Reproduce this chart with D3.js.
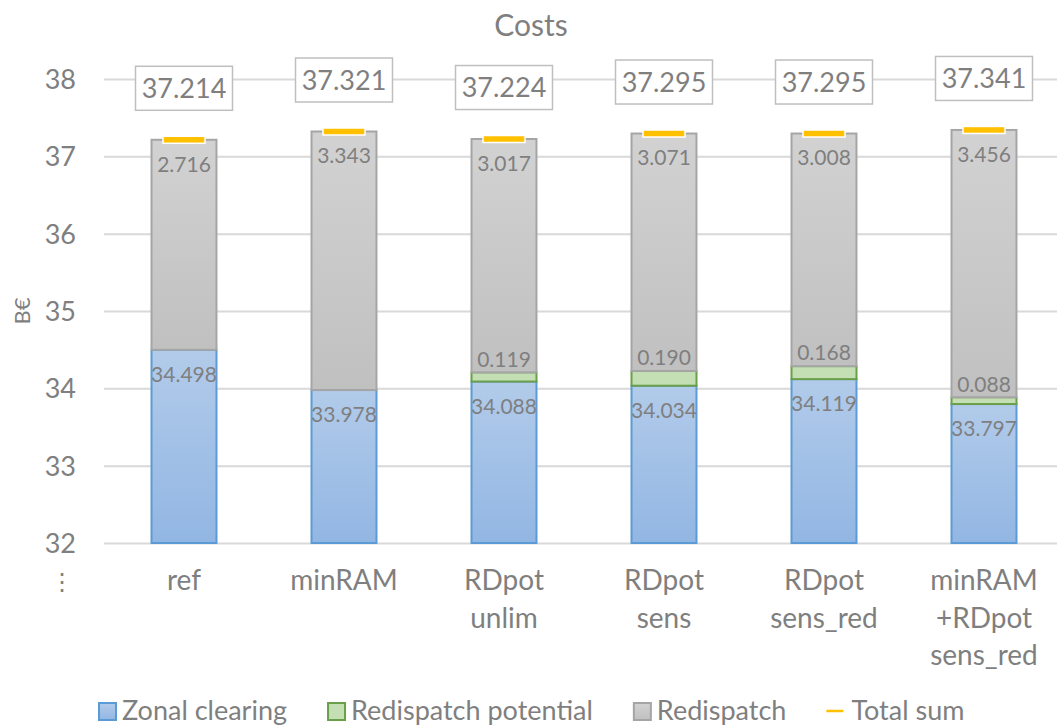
<!DOCTYPE html>
<html>
<head>
<meta charset="utf-8">
<script src="https://cdn.jsdelivr.net/npm/d3@7"></script>
<style>
  html, body { margin: 0; padding: 0; background: #fff; }
  svg { display: block; }
  text { font-family: "Lato", "Open Sans", sans-serif; fill: #7f7f7f; }
</style>
</head>
<body>
<svg id="chart" width="1057" height="727"></svg>
<script>
// ---- data ----
const categories = ["ref", "minRAM", "RDpot\nunlim", "RDpot\nsens", "RDpot\nsens_red", "minRAM\n+RDpot\nsens_red"];
const zonalClearing = [34.498, 33.978, 34.088, 34.034, 34.119, 33.797];
const redispatchPotential = [0, 0, 0.119, 0.190, 0.168, 0.088];
const redispatch = [2.716, 3.343, 3.017, 3.071, 3.008, 3.456];
const totalSum = [37.214, 37.321, 37.224, 37.295, 37.295, 37.341];
const yTicks = [32, 33, 34, 35, 36, 37, 38];
const seriesNames = ["Zonal clearing", "Redispatch potential", "Redispatch", "Total sum"];

const svg = d3.select("#chart");
const W = 1057, H = 727;

const x = d3.scaleBand().domain(categories).range([104, 1064]).paddingInner(0.594).paddingOuter(0.297);
const y = d3.scaleLinear().domain([32, 38]).range([543, 79]);

// gradients
const defs = svg.append("defs");
function grad(id, c1, c2) {
  const g = defs.append("linearGradient").attr("id", id).attr("x1", 0).attr("y1", 0).attr("x2", 0).attr("y2", 1);
  g.append("stop").attr("offset", "0%").attr("stop-color", c1);
  g.append("stop").attr("offset", "100%").attr("stop-color", c2);
}
grad("gBlue", "#b2cbea", "#92b6e3");
grad("gGray", "#d2d2d2", "#c0c0c0");

// title
svg.append("text").attr("x", 531).attr("y", 36).attr("text-anchor", "middle")
  .style("font-size", "30px").text("Costs");

// y axis label
svg.append("text").attr("transform", "translate(30,311) rotate(-90)").attr("text-anchor", "middle")
  .style("font-size", "22px").text("B€");

// gridlines + ticks via axis
const yAxis = d3.axisLeft(y).tickValues(yTicks).tickSize(-(W - 104)).tickPadding(28).tickFormat(d3.format("d"));
const gy = svg.append("g").attr("transform", "translate(104,0)").call(yAxis);
gy.select(".domain").remove();
gy.selectAll(".tick line").attr("stroke", "#d9d9d9").attr("stroke-width", 2);
gy.selectAll(".tick text").style("font-size", "27px").attr("fill", "#7f7f7f").attr("dy", "0.35em")
  .style("font-family", "Lato, sans-serif");

// x axis labels
const gx = svg.append("g");
categories.forEach((c, i) => {
  const lines = c.split("\n");
  const t = gx.append("text").attr("text-anchor", "middle").style("font-size", "28px");
  lines.forEach((ln, j) => {
    t.append("tspan").attr("x", x(c) + x.bandwidth() / 2).attr("y", 590 + j * 37.5).text(ln);
  });
});
svg.append("text").attr("x", 62).attr("y", 590).attr("text-anchor", "middle").style("font-size", "24px").text("⋮");

// stacked bars
const bw = x.bandwidth();
const data = categories.map((c, i) => ({
  c, z: zonalClearing[i], p: redispatchPotential[i], r: redispatch[i], t: totalSum[i]
}));
const bars = svg.append("g");
bars.selectAll("rect.z").data(data).join("rect")
  .attr("x", d => x(d.c)).attr("width", bw)
  .attr("y", d => y(d.z)).attr("height", d => y(32) - y(d.z))
  .attr("fill", "url(#gBlue)").attr("stroke", "#5b9bd5").attr("stroke-width", 2);
bars.selectAll("rect.p").data(data.filter(d => d.p > 0)).join("rect")
  .attr("x", d => x(d.c)).attr("width", bw)
  .attr("y", d => y(d.z + d.p)).attr("height", d => y(d.z) - y(d.z + d.p))
  .attr("fill", "#c4dfb3").attr("stroke", "#6a9f4a").attr("stroke-width", 2);
bars.selectAll("rect.r").data(data).join("rect")
  .attr("x", d => x(d.c)).attr("width", bw)
  .attr("y", d => y(d.z + d.p + d.r)).attr("height", d => y(d.z + d.p) - y(d.z + d.p + d.r))
  .attr("fill", "url(#gGray)").attr("stroke", "#a5a5a5").attr("stroke-width", 2);

// data labels
const fmt = d3.format(".3f");
const lbl = svg.append("g").style("font-size", "21px");
data.forEach(d => {
  const cx = x(d.c) + bw / 2;
  lbl.append("text").attr("x", cx).attr("y", y(d.z) + 25).attr("dy", "0.35em").attr("text-anchor", "middle").text(fmt(d.z));
  if (d.p > 0) lbl.append("text").attr("x", cx).attr("y", y(d.z + d.p) - 13).attr("dy", "0.35em").attr("text-anchor", "middle").text(fmt(d.p));
  lbl.append("text").attr("x", cx).attr("y", y(d.z + d.p + d.r) + 24.5).attr("dy", "0.35em").attr("text-anchor", "middle").text(fmt(d.r));
});

// total sum markers
svg.append("g").selectAll("rect").data(data).join("rect")
  .attr("x", d => x(d.c) + bw / 2 - 21).attr("width", 42)
  .attr("y", d => y(d.t) - 3.5).attr("height", 7)
  .attr("fill", "#ffc000").attr("stroke", "#fff").attr("stroke-width", 1.5);

// total labels in boxes
const tb = svg.append("g");
data.forEach(d => {
  const cx = x(d.c) + bw / 2, cy = y(d.t) - 51.5;
  tb.append("rect").attr("x", cx - 48.5).attr("y", cy - 22).attr("width", 97).attr("height", 44)
    .attr("fill", "#fff").attr("stroke", "#bfbfbf").attr("stroke-width", 1.5);
  tb.append("text").attr("x", cx).attr("y", cy).attr("dy", "0.36em").attr("text-anchor", "middle")
    .style("font-size", "27px").text(fmt(d.t));
});

// legend
const leg = svg.append("g");
const keyStyles = [
  { fill: "url(#gBlue)", stroke: "#5b9bd5" },
  { fill: "#c4dfb3", stroke: "#6a9f4a" },
  { fill: "url(#gGray)", stroke: "#a5a5a5" },
  { line: "#ffc000" }
];
let lx = 98;
const ly = 711;
seriesNames.forEach((name, i) => {
  const k = keyStyles[i];
  if (k.line) {
    leg.append("line").attr("x1", lx).attr("x2", lx + 17).attr("y1", ly).attr("y2", ly)
      .attr("stroke", k.line).attr("stroke-width", 2.5);
    lx += 25;
  } else {
    leg.append("rect").attr("x", lx + 1).attr("y", ly - 8).attr("width", 17).attr("height", 17)
      .attr("fill", k.fill).attr("stroke", k.stroke).attr("stroke-width", 2);
    lx += 24;
  }
  const t = leg.append("text").attr("x", lx).attr("y", ly).attr("dy", "0.35em").style("font-size", "27px").text(name);
  lx += t.node().getComputedTextLength() + 40;
});
</script>
</body>
</html>
